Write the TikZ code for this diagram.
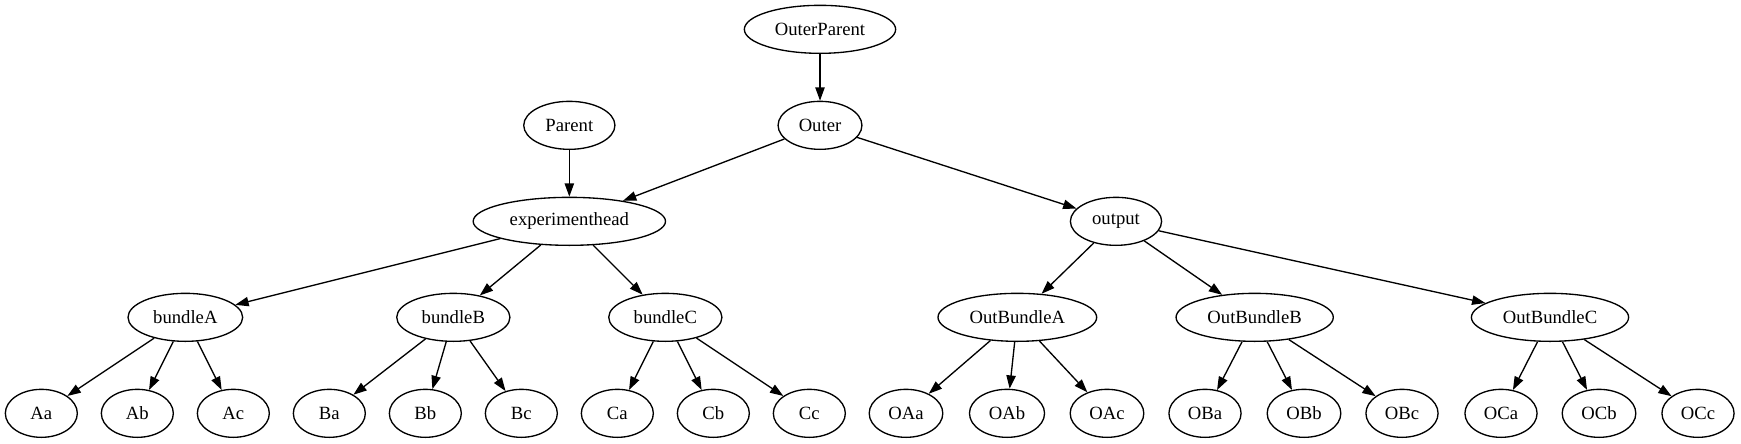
\documentclass[tikz,border=0pt]{standalone}
\usepackage{fontspec}
\setmainfont{Liberation Serif}
\usepackage{tikz}
\usetikzlibrary{shapes.geometric,arrows.meta}

\begin{document}
\begin{tikzpicture}[x=1pt,y=-1pt,
        vertex/.style={shape=ellipse,draw=black,line width=1pt,minimum width=54pt,minimum height=36pt,
                inner xsep=6.3pt,inner ysep=2pt,font=\fontsize{14pt}{16pt}\selectfont},
        arc/.style={-{Triangle[length=10pt,width=7pt]},line width=1pt,draw=black}]
        \useasboundingbox (0, 0) rectangle (1305.75, 332.25);

        \node[vertex] (outerparent) at (615, 22)      {OuterParent};
        \node[vertex] (outer) at (615, 94)            {Outer};
        \node[vertex] (parent) at (427, 94)           {Parent};
        \node[vertex] (head) at (427, 166)            {experimenthead};
        \node[vertex] (output) at (837, 166)          {output};

        \node[vertex] (bA) at (139, 238)              {bundleA};
        \node[vertex] (bB) at (340, 238)              {bundleB};
        \node[vertex] (bC) at (499, 238)              {bundleC};
        \node[vertex] (obA) at (763, 238)             {OutBundleA};
        \node[vertex] (obB) at (941, 238)             {OutBundleB};
        \node[vertex] (obC) at (1162.5, 238)          {OutBundleC};

        \node[vertex] (Aa) at (31, 310)               {Aa};
        \node[vertex] (Ab) at (103, 310)              {Ab};
        \node[vertex] (Ac) at (175, 310)              {Ac};
        \node[vertex] (Ba) at (247, 310)              {Ba};
        \node[vertex] (Bb) at (319, 310)              {Bb};
        \node[vertex] (Bc) at (391, 310)              {Bc};
        \node[vertex] (Ca) at (463, 310)              {Ca};
        \node[vertex] (Cb) at (535, 310)              {Cb};
        \node[vertex] (Cc) at (607, 310)              {Cc};
        \node[vertex] (OAa) at (679.5, 310)           {OAa};
        \node[vertex] (OAb) at (755.25, 310)          {OAb};
        \node[vertex] (OAc) at (830.25, 310)          {OAc};
        \node[vertex] (OBa) at (903.75, 310)          {OBa};
        \node[vertex] (OBb) at (978, 310)             {OBb};
        \node[vertex] (OBc) at (1051.5, 310)          {OBc};
        \node[vertex] (OCa) at (1125.75, 310)         {OCa};
        \node[vertex] (OCb) at (1199.25, 310)         {OCb};
        \node[vertex] (OCc) at (1273.5, 310)          {OCc};

	\path[arc] (outerparent) edge (outer);
	\path[arc] (parent) edge (head);
	\path[arc] (outer) edge (head);
	\path[arc] (outer) edge (output);
	\path[arc] (head) edge (bA);
	\path[arc] (head) edge (bB);
	\path[arc] (head) edge (bC);
	\path[arc] (output) edge (obA);
	\path[arc] (output) edge (obB);
	\path[arc] (output) edge (obC);
	\path[arc] (bA) edge (Aa);
	\path[arc] (bA) edge (Ab);
	\path[arc] (bA) edge (Ac);
	\path[arc] (bB) edge (Ba);
	\path[arc] (bB) edge (Bb);
	\path[arc] (bB) edge (Bc);
	\path[arc] (bC) edge (Ca);
	\path[arc] (bC) edge (Cb);
	\path[arc] (bC) edge (Cc);
	\path[arc] (obA) edge (OAa);
	\path[arc] (obA) edge (OAb);
	\path[arc] (obA) edge (OAc);
	\path[arc] (obB) edge (OBa);
	\path[arc] (obB) edge (OBb);
	\path[arc] (obB) edge (OBc);
	\path[arc] (obC) edge (OCa);
	\path[arc] (obC) edge (OCb);
	\path[arc] (obC) edge (OCc);
\end{tikzpicture}
\end{document}
